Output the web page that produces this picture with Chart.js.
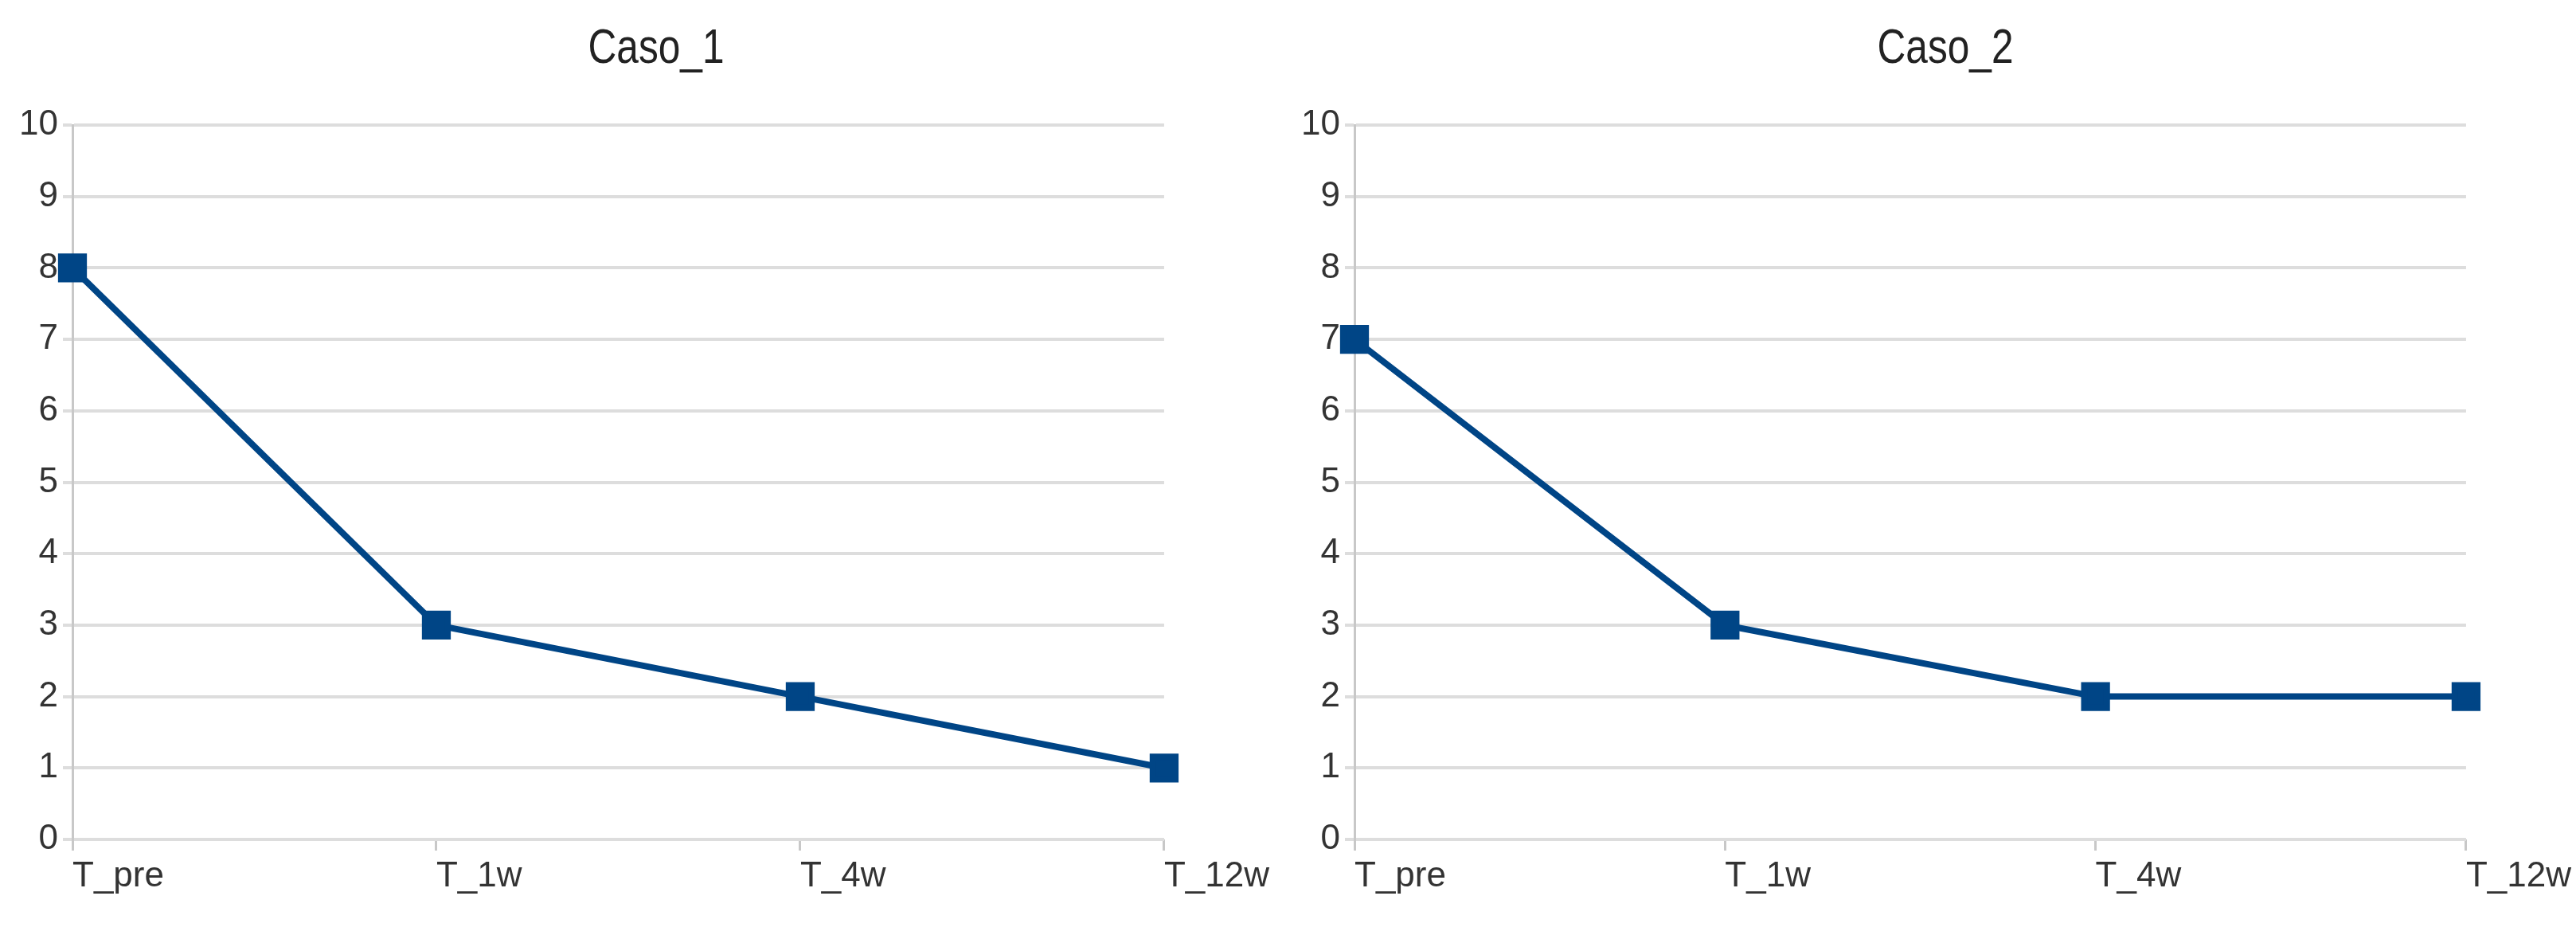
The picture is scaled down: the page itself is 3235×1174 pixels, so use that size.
<!DOCTYPE html>
<html><head><meta charset="utf-8">
<script src="https://cdn.jsdelivr.net/npm/chart.js@4/dist/chart.umd.min.js"></script>
<style>
body{margin:0;background:#fff;width:3235px;height:1174px;position:relative;overflow:hidden;font-family:"Liberation Sans",sans-serif}
.t{position:absolute;top:22px;font-size:62px;color:#222;transform:translateX(-50%) scaleX(0.8);white-space:nowrap}
canvas{position:absolute;top:0}
</style></head><body>
<div class="t" style="left:824px">Caso_1</div>
<div class="t" style="left:2443px">Caso_2</div>
<div style="position:absolute;left:0;top:0;width:1600px;height:1174px"><canvas id="c1"></canvas></div>
<div style="position:absolute;left:1610px;top:0;width:1625px;height:1174px"><canvas id="c2"></canvas></div>
<script>
const categories = ["T_pre","T_1w","T_4w","T_12w"];
const caso1 = [8,3,2,1];
const caso2 = [7,3,2,2];
const yTicks = [0,1,2,3,4,5,6,7,8,9,10];

function make(id, data, padRight){
  new Chart(document.getElementById(id), {
    type:'line',
    data:{labels:categories, datasets:[{data:data, borderColor:'#004586', backgroundColor:'#004586',
      borderWidth:8, pointStyle:'rect', pointRadius:20, pointHoverRadius:20, tension:0}]},
    options:{
      responsive:true, maintainAspectRatio:false, animation:false,
      layout:{padding:{top:157,right:padRight,bottom:0,left:0}},
      plugins:{legend:{display:false},tooltip:{enabled:false}},
      scales:{
        x:{offset:false, grid:{drawOnChartArea:false, color:'#c8c8c8', lineWidth:3, tickLength:14},
           border:{display:false},
           ticks:{align:'start', color:'#333', font:{family:'Liberation Sans', size:44}, padding:6, maxRotation:0, autoSkip:false},
           afterFit:s=>{s.height=120;}},
        y:{min:0,max:10, afterBuildTicks:s=>{s.ticks=yTicks.map(v=>({value:v}));},
           grid:{color:'#dddddd', lineWidth:4, tickLength:12},
           border:{display:true,color:'#c8c8c8',width:3},
           ticks:{color:'#333', font:{family:'Liberation Sans', size:44}, padding:6},
           afterFit:s=>{s.width=91;}}
      }
    }
  });
}
make('c1', caso1, 6);
make('c2', caso2, 10);
</script></body></html>
